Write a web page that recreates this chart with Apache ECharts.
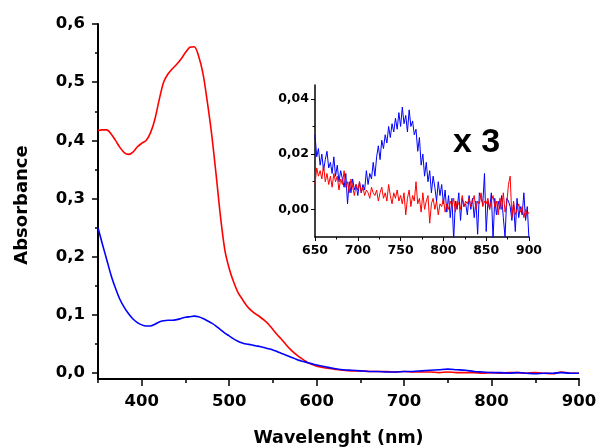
<!DOCTYPE html>
<html>
<head>
<meta charset="utf-8">
<script src="https://cdn.jsdelivr.net/npm/echarts@6/dist/echarts.min.js"></script>
<style>html,body{margin:0;padding:0;background:#fff}#c{width:596px;height:448px}</style>
</head>
<body>
<div id="c"></div>
<script>
// ---- Main spectrum data ----
const mainWavelength = [350,355,360,365,370,375,380,385,390,395,400,405,410,415,420,425,430,435,440,445,450,455,460,465,470,475,480,485,490,495,500,505,510,515,520,525,530,535,540,545,550,555,560,565,570,575,580,585,590,595,600,
610,620,630,640,650,660,670,680,690,700,710,720,730,740,750,760,770,780,790,800,810,820,830,840,850,860,870,880,890,900];
const mainRed = [0.417,0.418,0.418,0.411,0.400,0.388,0.379,0.376,0.380,0.389,0.395,0.400,0.413,0.436,0.470,0.500,0.514,0.523,0.531,0.540,0.551,0.560,0.561,0.545,0.515,0.466,0.410,0.342,0.270,0.212,0.180,0.157,0.139,0.127,0.116,0.108,0.102,0.097,0.091,0.084,0.075,0.066,0.058,0.049,0.041,0.034,0.028,0.023,0.018,0.015,0.012,
0.009,0.007,0.005,0.004,0.004,0.003,0.003,0.003,0.002,0.003,0.002,0.002,0.002,0.001,0.002,0.001,0.001,0.001,0.000,0.001,0.000,0.001,0.001,0.000,0.001,0.000,-0.001,0.002,0.000,0.000];
const mainBlue = [0.250,0.222,0.195,0.168,0.146,0.127,0.113,0.102,0.093,0.087,0.083,0.081,0.081,0.084,0.088,0.090,0.091,0.091,0.092,0.094,0.096,0.097,0.098,0.097,0.094,0.090,0.086,0.081,0.075,0.069,0.064,0.059,0.055,0.052,0.050,0.049,0.047,0.046,0.044,0.042,0.040,0.037,0.034,0.031,0.028,0.025,0.022,0.020,0.018,0.016,0.014,
0.011,0.008,0.006,0.005,0.004,0.003,0.003,0.002,0.002,0.003,0.003,0.004,0.005,0.006,0.007,0.006,0.005,0.003,0.002,0.001,0.001,0.000,0.001,0.000,-0.001,0.000,0.000,0.001,0.000,0.000];

// ---- Inset (x 3) data ----
const insetWavelength = [650,652,654,656,658,660,662,664,666,668,670,672,674,676,678,680,682,684,686,688,690,692,694,696,698,700,702,704,706,708,
710,712,714,716,718,720,722,724,726,728,730,732,734,736,738,740,742,744,746,748,750,752,754,756,758,760,762,764,766,768,
770,772,774,776,778,780,782,784,786,788,790,792,794,796,798,800,802,804,806,808,810,812,814,816,818,820,822,824,826,828,
830,832,834,836,838,840,842,844,846,848,850,852,854,856,858,860,862,864,866,868,870,872,874,876,878,880,882,884,886,888,
890,892,894,896,898,900];
const insetBlue = [0.027,0.019,0.022,0.016,0.020,0.014,0.018,0.021,0.015,0.017,
0.013,0.019,0.012,0.016,0.010,0.014,0.011,0.008,0.013,0.002,
0.010,0.006,0.011,0.007,0.009,0.005,0.010,0.006,0.009,0.007,
0.014,0.009,0.013,0.011,0.017,0.012,0.019,0.023,0.018,0.025,
0.022,0.027,0.024,0.030,0.026,0.031,0.028,0.033,0.029,0.035,
0.030,0.037,0.031,0.034,0.028,0.036,0.030,0.032,0.027,0.029,
0.021,0.026,0.016,0.020,0.012,0.017,0.010,0.014,0.006,0.012,
0.008,0.003,0.010,0.005,0.009,0.002,0.007,-0.001,0.005,-0.003,
0.004,-0.011,0.003,0.000,0.006,-0.004,0.004,0.001,0.002,-0.002,
0.005,0.000,0.004,-0.003,0.003,-0.009,0.006,0.004,0.002,0.013,
-0.008,0.003,0.000,0.006,-0.011,0.004,-0.002,0.003,0.000,0.005,
-0.003,-0.010,0.004,0.003,0.001,-0.004,0.002,-0.008,0.004,-0.003,
0.001,-0.002,0.006,-0.004,0.001,-0.011];
const insetRed = [0.009,0.015,0.012,0.014,0.011,0.016,0.010,0.013,0.009,0.012,
0.008,0.013,0.010,0.012,0.007,0.011,0.009,0.014,0.008,0.010,
0.006,0.011,0.008,0.005,0.009,0.007,0.010,0.006,0.008,0.005,
0.007,0.006,0.004,0.008,0.006,0.005,0.007,0.003,0.006,0.008,
0.004,0.006,0.003,0.009,0.005,0.002,0.006,0.004,0.007,0.003,
0.005,0.002,0.006,-0.002,0.004,0.007,0.001,0.005,0.003,0.010,
0.002,0.004,-0.001,0.006,0.000,0.003,0.005,-0.005,0.002,0.004,
0.000,0.003,-0.002,0.002,0.001,0.004,-0.001,0.002,0.000,0.003,
0.001,0.004,-0.001,0.003,0.002,0.000,0.005,0.001,0.003,0.002,
0.004,0.001,0.003,0.005,0.000,0.003,0.002,0.006,0.001,0.003,
0.002,0.004,0.000,0.003,0.005,0.001,0.003,-0.002,0.004,0.000,
0.006,-0.001,0.002,0.009,0.012,-0.003,0.003,-0.002,0.000,0.002,
-0.001,0.001,-0.003,0.000,-0.002,-0.001];

// ---- Tick labels ----
const mainXTicks = [400,500,600,700,800,900];
const mainXMinor = [350,450,550,650,750,850];
const mainYTicks = [0,0.1,0.2,0.3,0.4,0.5,0.6];
const mainYMinor = [0.05,0.15,0.25,0.35,0.45,0.55];
const insetYTicks = [0,0.02,0.04];
const insetYMinor = [0.01,0.03];

const pairs = (xs, ys) => xs.map((x, i) => [x, ys[i]]);
const FONT = 'DejaVu Sans';
const axisLineStyle = { color: '#000', width: 2 };

const chart = echarts.init(document.getElementById('c'), null, { renderer: 'canvas' });
chart.setOption({
  animation: false,
  backgroundColor: '#fff',
  grid: [
    { left: 98, right: 17, top: 24, bottom: 69, containLabel: false, outerBoundsMode: 'none' },
    { left: 315, top: 85, width: 214, height: 152, containLabel: false, outerBoundsMode: 'none' }
  ],
  xAxis: [
    {
      gridIndex: 0, type: 'value', min: 350, max: 900, position: 'bottom',
      axisLine: { onZero: false, lineStyle: axisLineStyle },
      axisTick: { customValues: mainXTicks, length: 7, lineStyle: { color: '#000', width: 1.5 } },
      axisLabel: { customValues: mainXTicks, margin: 14, color: '#000', fontFamily: FONT, fontWeight: 'bold', fontSize: 16.5 },
      splitLine: { show: false },
      name: 'Wavelenght (nm)', nameLocation: 'middle', nameGap: 50,
      nameTextStyle: { color: '#000', fontFamily: FONT, fontWeight: 'bold', fontSize: 17.5 }
    },
    {
      gridIndex: 0, type: 'value', min: 350, max: 900, position: 'bottom',
      axisLine: { show: false, onZero: false },
      axisTick: { customValues: mainXMinor, length: 4, lineStyle: { color: '#000', width: 1.5 } },
      axisLabel: { show: false },
      splitLine: { show: false }
    },
    {
      gridIndex: 1, type: 'value', min: 650, max: 900, interval: 50, position: 'bottom',
      axisLine: { onZero: false, lineStyle: { color: '#000', width: 1.5 } },
      axisTick: { length: 4, lineStyle: { color: '#000', width: 1 } },
      minorTick: { show: true, splitNumber: 2, length: 2.5, lineStyle: { color: '#000', width: 1 } },
      axisLabel: { margin: 7, color: '#000', fontFamily: FONT, fontWeight: 'bold', fontSize: 12.5 },
      splitLine: { show: false }
    }
  ],
  yAxis: [
    {
      gridIndex: 0, type: 'value', min: -0.01, max: 0.6, position: 'left',
      axisLine: { show: true, onZero: false, lineStyle: axisLineStyle },
      axisTick: { show: true, customValues: mainYTicks, length: 6, lineStyle: { color: '#000', width: 1.5 } },
      axisLabel: { customValues: mainYTicks, margin: 13, color: '#000', fontFamily: FONT, fontWeight: 'bold', fontSize: 16.5,
        formatter: v => v.toFixed(1).replace('.', ',') },
      splitLine: { show: false }
    },
    {
      gridIndex: 0, type: 'value', min: -0.01, max: 0.6, position: 'left',
      axisLine: { show: false, onZero: false },
      axisTick: { show: true, customValues: mainYMinor, length: 3, lineStyle: { color: '#000', width: 1.5 } },
      axisLabel: { show: false },
      splitLine: { show: false }
    },
    {
      gridIndex: 1, type: 'value', min: -0.01, max: 0.045, position: 'left',
      axisLine: { show: true, onZero: false, lineStyle: { color: '#000', width: 1.5 } },
      axisTick: { show: true, customValues: insetYTicks, length: 4, lineStyle: { color: '#000', width: 1 } },
      axisLabel: { customValues: insetYTicks, margin: 6, color: '#000', fontFamily: FONT, fontWeight: 'bold', fontSize: 12.5,
        formatter: v => v.toFixed(2).replace('.', ',') },
      splitLine: { show: false }
    },
    {
      gridIndex: 1, type: 'value', min: -0.01, max: 0.045, position: 'left',
      axisLine: { show: false, onZero: false },
      axisTick: { show: true, customValues: insetYMinor, length: 2.5, lineStyle: { color: '#000', width: 1 } },
      axisLabel: { show: false },
      splitLine: { show: false }
    }
  ],
  graphic: [
    { type: 'text', left: 453, top: 126, style: { text: 'x 3', fill: '#000', font: 'bold 34px "Liberation Sans", Arial, sans-serif' } },
    { type: 'text', x: 22, y: 205, rotation: Math.PI / 2,
      style: { text: 'Absorbance', fill: '#000', font: 'bold 18px "DejaVu Sans"', align: 'center', verticalAlign: 'middle' } }
  ],
  series: [
    { type: 'line', xAxisIndex: 0, yAxisIndex: 0, data: pairs(mainWavelength, mainRed), showSymbol: false, smooth: 0.3,
      lineStyle: { color: '#ff0000', width: 1.6 }, itemStyle: { color: '#ff0000' }, z: 2 },
    { type: 'line', xAxisIndex: 0, yAxisIndex: 0, data: pairs(mainWavelength, mainBlue), showSymbol: false, smooth: 0.3,
      lineStyle: { color: '#0000ff', width: 1.6 }, itemStyle: { color: '#0000ff' }, z: 3 },
    { type: 'line', xAxisIndex: 2, yAxisIndex: 2, data: pairs(insetWavelength, insetBlue), showSymbol: false, clip: true,
      lineStyle: { color: '#0000ff', width: 1 }, itemStyle: { color: '#0000ff' }, z: 2 },
    { type: 'line', xAxisIndex: 2, yAxisIndex: 2, data: pairs(insetWavelength, insetRed), showSymbol: false, clip: true,
      lineStyle: { color: '#ff0000', width: 1 }, itemStyle: { color: '#ff0000' }, z: 3 }
  ]
});
</script>
</body>
</html>
